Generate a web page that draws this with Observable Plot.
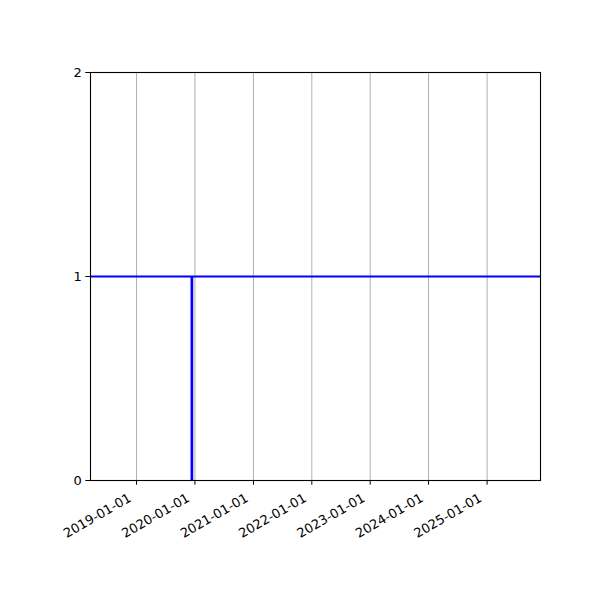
<!DOCTYPE html>
<html>
<head>
<meta charset="utf-8">
<script src="https://cdn.jsdelivr.net/npm/d3@7"></script>
<script src="https://cdn.jsdelivr.net/npm/@observablehq/plot@0.6"></script>
<style>
  html, body { margin: 0; padding: 0; background: #fff; }
  svg { font-family: "DejaVu Sans", sans-serif; }
</style>
</head>
<body>
<div id="chart"></div>
<script>
// Data
const xDomain = ["2018-03-19", "2025-12-01"];
const yTicks = [0, 1, 2];
const xTicks = ["2019-01-01", "2020-01-01", "2021-01-01", "2022-01-01", "2023-01-01", "2024-01-01", "2025-01-01"];
const levelValue = [1];
const eventDates = ["2019-12-13"];
const eventLow = [0];
const eventHigh = [1];

const parse = d3.utcParse("%Y-%m-%d");
const fmt = d3.utcFormat("%Y-%m-%d");
const events = eventDates.map((d, i) => ({date: parse(d), y1: eventLow[i], y2: eventHigh[i]}));
const tickDates = xTicks.map(parse);

const chart = Plot.plot({
  width: 600,
  height: 600,
  marginLeft: 90,
  marginRight: 60,
  marginTop: 72,
  marginBottom: 120,
  style: {fontFamily: "DejaVu Sans, sans-serif", fontSize: "13px", color: "#000", background: "#fff"},
  x: {type: "utc", domain: xDomain.map(parse)},
  y: {domain: [0, 2]},
  marks: [
    Plot.gridX(tickDates, {stroke: "#b0b0b0", strokeOpacity: 1, strokeWidth: 1}),
    Plot.ruleY(levelValue, {stroke: "blue", strokeWidth: 2}),
    Plot.ruleX(events, {x: "date", y1: "y1", y2: "y2", stroke: "blue", strokeWidth: 2.7}),
    Plot.frame({stroke: "#000", strokeWidth: 1.1}),
    Plot.axisY(yTicks, {tickSize: 4.7, tickPadding: 4, label: null, tickFormat: d3.format("d"), fontSize: 13}),
    Plot.axisX(tickDates, {tickSize: 4.7, label: null, tickFormat: () => "", fontSize: 13}),
    Plot.text(tickDates, {
      x: d => d,
      text: d => fmt(d),
      frameAnchor: "bottom",
      dx: -9,
      dy: 12,
      rotate: -30,
      textAnchor: "end",
      lineAnchor: "top",
      fontSize: 13,
      fill: "#000"
    })
  ]
});
document.getElementById("chart").appendChild(chart);
</script>
</body>
</html>
